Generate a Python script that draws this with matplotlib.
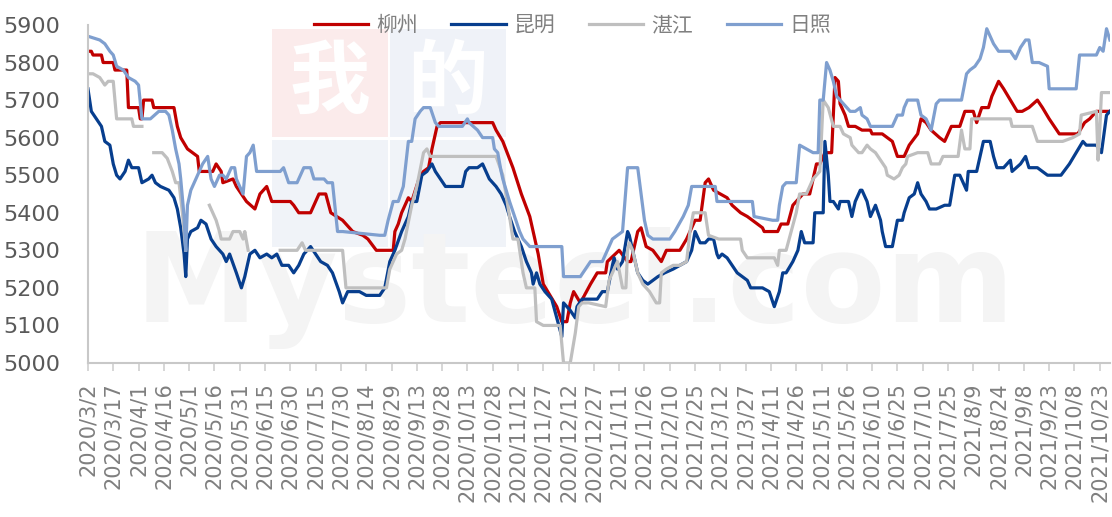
import numpy as np
import pandas as pd
import matplotlib
matplotlib.use("Agg")
import matplotlib.pyplot as plt
from matplotlib.patches import Rectangle

plt.rcParams['font.family'] = ['Noto Sans CJK SC', 'DejaVu Sans']

# 日期以 2020/3/2 起算的天数表示
start = pd.Timestamp("2020-03-02")
end_day = 606

series_names = ["柳州", "昆明", "湛江", "日照"]
colors = ["#C00000", "#073E8E", "#BFBFBF", "#7F9FCF"]

lz_days = [0, 2, 3, 8, 9, 15, 16, 23, 24, 30, 31, 32, 33, 38, 39, 51, 53, 55, 59, 65,
           66, 74, 76, 79, 80, 86, 88, 94, 99, 102, 106, 109, 120, 122, 125, 132, 135, 137, 141, 144,
           151, 157, 163, 166, 171, 181, 182, 184, 186, 190, 192, 197, 199, 202, 204, 207, 209, 240, 242, 246,
           252, 257, 262, 264, 267, 270, 274, 278, 281, 284, 286, 288, 292, 298, 302, 307, 308, 315, 320, 322,
           326, 328, 331, 335, 340, 343, 351, 355, 360, 363, 366, 368, 371, 375, 379, 382, 387, 391, 394, 400,
           401, 409, 411, 415, 418, 422, 424, 428, 432, 434, 437, 441, 443, 445, 446, 449, 451, 455, 459, 464,
           465, 471, 477, 480, 484, 487, 492, 494, 497, 500, 505, 508, 512, 517, 520, 525, 527, 530, 534, 536,
           540, 543, 547, 551, 554, 558, 563, 566, 570, 573, 576, 587, 591, 594, 598, 606]
lz_vals = [5830, 5830, 5820, 5820, 5800, 5800, 5780, 5780, 5680, 5680, 5650, 5650, 5700, 5700, 5680, 5680, 5630, 5600, 5570, 5550,
           5510, 5510, 5530, 5510, 5480, 5490, 5470, 5430, 5410, 5450, 5470, 5430, 5430, 5420, 5400, 5400, 5430, 5450, 5450, 5400,
           5380, 5350, 5340, 5330, 5300, 5300, 5350, 5370, 5400, 5440, 5430, 5500, 5510, 5520, 5570, 5630, 5640, 5640, 5620, 5590,
           5520, 5450, 5390, 5350, 5290, 5210, 5180, 5150, 5110, 5110, 5160, 5190, 5160, 5210, 5240, 5240, 5270, 5300, 5270, 5270,
           5350, 5360, 5310, 5300, 5270, 5300, 5300, 5330, 5380, 5380, 5480, 5490, 5460, 5450, 5440, 5420, 5400, 5390, 5380, 5360,
           5350, 5350, 5370, 5370, 5420, 5440, 5450, 5450, 5530, 5530, 5560, 5560, 5760, 5750, 5690, 5660, 5630, 5630, 5620, 5620,
           5610, 5610, 5590, 5550, 5550, 5580, 5610, 5650, 5640, 5620, 5600, 5590, 5630, 5630, 5670, 5670, 5640, 5680, 5680, 5710,
           5750, 5730, 5700, 5670, 5670, 5680, 5700, 5680, 5650, 5630, 5610, 5610, 5640, 5650, 5670, 5670]

km_days = [0, 2, 5, 8, 10, 13, 15, 17, 19, 22, 24, 26, 30, 32, 36, 38, 40, 43, 48, 51,
           53, 55, 57, 58, 59, 61, 65, 67, 70, 73, 76, 80, 82, 84, 88, 91, 93, 96, 99, 102,
           106, 109, 112, 115, 119, 122, 125, 128, 132, 135, 138, 142, 145, 149, 151, 154, 157, 161, 165, 169,
           173, 176, 179, 182, 186, 190, 192, 195, 198, 201, 204, 206, 209, 212, 222, 224, 226, 231, 234, 236,
           238, 242, 245, 248, 250, 253, 257, 260, 263, 264, 266, 268, 271, 275, 278, 281, 282, 286, 289, 290,
           293, 296, 302, 305, 308, 311, 312, 314, 317, 320, 321, 323, 326, 329, 332, 335, 338, 342, 347, 351,
           355, 358, 360, 363, 366, 368, 371, 373, 374, 376, 379, 382, 385, 391, 393, 400, 404, 407, 410, 412,
           414, 418, 421, 423, 425, 430, 431, 436, 437, 439, 440, 442, 445, 446, 451, 453, 455, 458, 459, 462,
           464, 467, 470, 471, 473, 477, 480, 483, 484, 487, 490, 492, 494, 497, 499, 503, 508, 511, 514, 517,
           521, 522, 527, 531, 535, 537, 539, 543, 547, 548, 553, 556, 558, 563, 569, 577, 582, 586, 590, 592,
           598, 601, 604, 606]
km_vals = [5730, 5670, 5650, 5630, 5590, 5580, 5530, 5500, 5490, 5510, 5540, 5520, 5520, 5480, 5490, 5500, 5480, 5470, 5460, 5440,
           5410, 5360, 5290, 5230, 5330, 5350, 5360, 5380, 5370, 5330, 5310, 5290, 5270, 5290, 5240, 5200, 5230, 5290, 5300, 5280,
           5290, 5280, 5290, 5260, 5260, 5240, 5260, 5290, 5310, 5290, 5270, 5260, 5240, 5190, 5160, 5190, 5190, 5190, 5180, 5180,
           5180, 5200, 5270, 5300, 5350, 5390, 5430, 5430, 5500, 5510, 5530, 5510, 5490, 5470, 5470, 5510, 5520, 5520, 5530, 5510,
           5490, 5470, 5450, 5420, 5390, 5350, 5310, 5270, 5240, 5210, 5240, 5210, 5190, 5170, 5120, 5070, 5160, 5140, 5120, 5150,
           5170, 5170, 5170, 5190, 5190, 5260, 5280, 5250, 5270, 5350, 5340, 5300, 5240, 5220, 5210, 5220, 5230, 5240, 5250, 5260,
           5270, 5300, 5350, 5320, 5320, 5330, 5330, 5290, 5280, 5290, 5280, 5260, 5240, 5220, 5200, 5200, 5190, 5150, 5190, 5240,
           5240, 5270, 5300, 5350, 5320, 5320, 5400, 5400, 5590, 5500, 5430, 5430, 5410, 5430, 5430, 5390, 5430, 5460, 5460, 5430,
           5390, 5420, 5380, 5350, 5310, 5310, 5380, 5380, 5400, 5440, 5450, 5480, 5450, 5430, 5410, 5410, 5420, 5420, 5500, 5500,
           5460, 5510, 5510, 5590, 5590, 5550, 5520, 5520, 5540, 5510, 5530, 5550, 5520, 5520, 5500, 5500, 5530, 5560, 5590, 5580,
           5580, 5560, 5660, 5670]

# 湛江有缺失数据, 以 None 断开
zj_days = [0, 3, 7, 10, 12, 15, 17, 23, 26, 27, 32, 33,
           39, 44, 47, 50, 52, 54, 56, 58, 59,
           72, 76, 78, 79, 84, 86, 90, 92, 93, 95, 96,
           114, 124, 127, 129, 151, 153, 177, 179, 183, 186, 188, 192, 195, 199, 201, 203, 242, 246,
           250, 252, 255, 258, 260, 265, 266, 270, 280, 282, 286, 289, 291, 293, 297, 307, 309, 311, 314, 317,
           319, 320, 321, 323, 326, 329, 333, 337, 339, 340, 343, 347, 351, 355, 357, 359, 366, 368, 374, 387,
           388, 391, 407, 409, 410, 414, 417, 420, 422, 426, 430, 432, 434, 436, 439, 442, 446, 448, 452, 453,
           457, 459, 462, 464, 467, 470, 473, 474, 478, 481, 483, 485, 486, 492, 498, 500, 505, 507, 516, 518,
           520, 523, 524, 547, 548, 560, 563, 578, 584, 588, 589, 598, 599, 600, 601, 606]
zj_vals = [5770, 5770, 5760, 5740, 5750, 5750, 5650, 5650, 5650, 5630, 5630, None,
           5560, 5560, 5545, 5510, 5480, 5480, 5400, 5300, None,
           5420, 5380, 5350, 5330, 5330, 5350, 5350, 5330, 5350, 5300, None,
           5300, 5300, 5320, 5300, 5300, 5200, 5200, 5250, 5290, 5300, 5330, 5420, 5470, 5560, 5570, 5550, 5550, 5500,
           5390, 5330, 5330, 5240, 5200, 5200, 5110, 5100, 5100, 5000, 5000, 5080, 5150, 5160, 5160, 5150, 5220, 5240, 5270, 5200,
           5200, 5300, 5320, 5300, 5240, 5210, 5190, 5160, 5160, 5240, 5250, 5260, 5260, 5270, 5350, 5400, 5400, 5340, 5330, 5330,
           5300, 5280, 5280, 5260, 5300, 5300, 5350, 5400, 5450, 5450, 5490, 5500, 5510, 5700, 5680, 5630, 5630, 5610, 5600, 5580,
           5560, 5560, 5580, 5570, 5560, 5540, 5520, 5500, 5490, 5500, 5520, 5530, 5550, 5560, 5560, 5530, 5530, 5550, 5550, 5620,
           5570, 5570, 5650, 5650, 5630, 5630, 5590, 5590, 5600, 5610, 5660, 5670, 5540, 5620, 5720, 5720]

rz_days = [0, 7, 10, 13, 15, 17, 21, 24, 28, 30, 32, 37, 42, 46, 48, 50, 52, 54, 55, 57,
           58, 59, 61, 65, 68, 71, 72, 73, 75, 78, 80, 82, 85, 87, 88, 92, 94, 96, 98, 100,
           114, 116, 119, 124, 126, 128, 132, 134, 140, 142, 145, 148, 151, 173, 176, 178, 181, 184, 187, 190,
           192, 194, 197, 199, 203, 206, 208, 222, 225, 226, 231, 234, 240, 241, 243, 245, 246, 250, 253, 256,
           258, 262, 281, 282, 292, 298, 305, 308, 311, 317, 320, 326, 328, 330, 332, 335, 345, 348, 353, 356,
           358, 372, 373, 394, 395, 406, 409, 410, 412, 414, 420, 422, 430, 433, 434, 436, 438, 440, 442, 444,
           448, 452, 455, 458, 459, 462, 464, 477, 480, 483, 484, 486, 492, 494, 497, 499, 500, 503, 505, 518,
           521, 523, 526, 529, 531, 533, 537, 540, 547, 550, 553, 556, 558, 560, 564, 569, 570, 586, 588, 598,
           600, 602, 604, 606]
rz_vals = [5870, 5860, 5850, 5830, 5820, 5790, 5780, 5760, 5750, 5740, 5650, 5650, 5670, 5670, 5660, 5620, 5570, 5530, 5490, 5390,
           5300, 5420, 5460, 5500, 5530, 5550, 5520, 5490, 5470, 5500, 5500, 5490, 5520, 5520, 5490, 5450, 5550, 5560, 5580, 5510,
           5510, 5520, 5480, 5480, 5500, 5520, 5520, 5490, 5490, 5480, 5480, 5350, 5350, 5340, 5340, 5380, 5430, 5430, 5470, 5590,
           5590, 5650, 5670, 5680, 5680, 5640, 5630, 5630, 5650, 5640, 5620, 5600, 5600, 5570, 5560, 5510, 5490, 5430, 5390, 5350,
           5330, 5310, 5310, 5230, 5230, 5270, 5270, 5300, 5330, 5350, 5520, 5520, 5450, 5380, 5340, 5330, 5330, 5350, 5390, 5420,
           5470, 5470, 5430, 5430, 5390, 5380, 5380, 5420, 5470, 5480, 5480, 5580, 5560, 5560, 5700, 5700, 5800, 5780, 5750, 5710,
           5690, 5670, 5670, 5680, 5660, 5650, 5630, 5630, 5660, 5660, 5680, 5700, 5700, 5660, 5650, 5630, 5620, 5690, 5700, 5700,
           5770, 5780, 5790, 5810, 5840, 5890, 5850, 5830, 5830, 5810, 5840, 5860, 5860, 5800, 5800, 5790, 5730, 5730, 5820, 5820,
           5840, 5830, 5890, 5860]

series_days = [lz_days, km_days, zj_days, rz_days]
series_vals = [lz_vals, km_vals, zj_vals, rz_vals]

tick_dates = pd.date_range(start, start + pd.Timedelta(days=600), freq="15D")
tick_labels = [f"{d.year}/{d.month}/{d.day}" for d in tick_dates]

fig = plt.figure(figsize=(11.12, 5.17), dpi=100)
ax = fig.add_axes([0.0791, 0.2979, 0.919, 0.6538])
ax.set_zorder(2)
ax.set_facecolor("none")

# 水印 (画在坐标轴下面)
wm_boxes = [(0.2446, 0.735, "#FBEBEB", "我"), (0.3507, 0.735, "#EFF2F8", "的"),
            (0.2446, 0.522, "#F0F3F8", ""), (0.3507, 0.522, "#F0F3F8", "")]
for bx, by, bc, ch in wm_boxes:
    fig.patches.append(Rectangle((bx, by), 0.104, 0.208, transform=fig.transFigure,
                                 facecolor=bc, edgecolor="none", zorder=0))
    if ch:
        fig.text(bx + 0.052, by + 0.104, ch, ha="center", va="center", fontsize=58,
                 color="white", zorder=0.5, fontweight="bold")
fig.text(0.517, 0.377, "Mysteel.com", ha="center", va="baseline", fontsize=89,
         color="#F4F4F4", fontweight="bold", family="DejaVu Sans", zorder=0.5)

for name, c, days, vals in zip(series_names, colors, series_days, series_vals):
    x = start + pd.to_timedelta(days, unit="D")
    y = np.array([np.nan if v is None else v for v in vals], dtype=float)
    ax.plot(x, y, color=c, lw=2.3, label=name, solid_joinstyle="round")

ax.set_xlim(start, start + pd.Timedelta(days=end_day))
ax.set_ylim(5000, 5900)
ax.set_yticks(range(5000, 5901, 100))
ax.set_xticks(tick_dates)
ax.set_xticklabels(tick_labels, rotation=90, fontsize=15, color="#7F7F7F", family="DejaVu Sans")
for lab in ax.get_yticklabels():
    lab.set_fontsize(16)
    lab.set_color("#595959")
    lab.set_family("DejaVu Sans")

for s in ["top", "right"]:
    ax.spines[s].set_visible(False)
for s in ["left", "bottom"]:
    ax.spines[s].set_color("#C8C8C8")
    ax.spines[s].set_linewidth(1.5)
ax.tick_params(axis="y", length=0, pad=20)
ax.tick_params(axis="x", length=6, width=1.2, color="#D0D0D0", direction="out", pad=8)

leg = ax.legend(loc="center", bbox_to_anchor=(0.474, 1.0), ncol=4, frameon=False,
                fontsize=15, handlelength=2.6, handletextpad=0.4, columnspacing=1.6)
for t in leg.get_texts():
    t.set_color("#808080")

fig.savefig("out.png", dpi=100)
